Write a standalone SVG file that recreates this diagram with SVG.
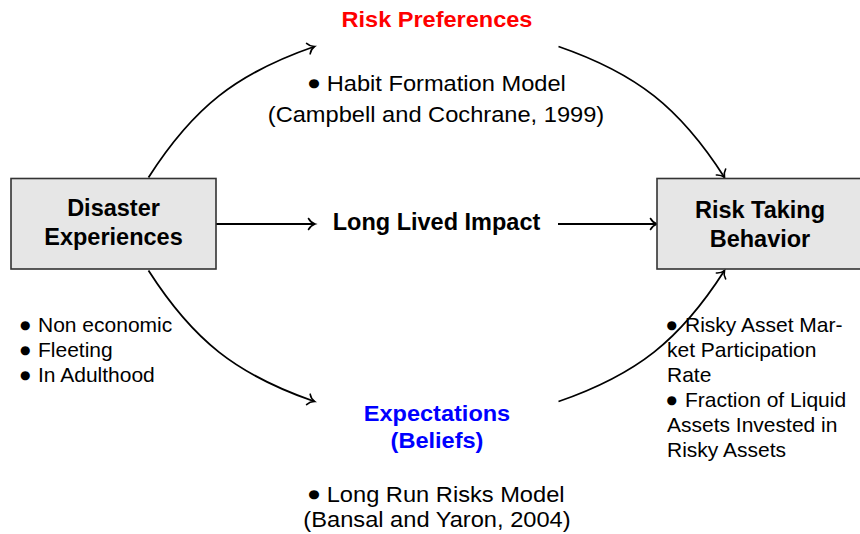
<svg xmlns="http://www.w3.org/2000/svg" width="860" height="534" viewBox="0 0 860 534">
  <style>
    text { font-family: "Liberation Sans", Arial, Helvetica, sans-serif; fill: #000; }
    .box { fill: #e6e6e6; stroke: #333; stroke-width: 1.6; }
    .bold { font-weight: bold; font-size: 23.5px; text-anchor: middle; }
    .head { font-weight: bold; font-size: 22px; text-anchor: middle; }
    .red { fill: #ff0000; }
    .blue { fill: #0000ff; }
    .cite { font-size: 21.5px; text-anchor: middle; }
    .note { font-size: 21.5px; }
    .list { font-size: 21px; }
    .bul { font-family: "DejaVu Sans", sans-serif; font-size: 12px; }
    .edge { fill: none; stroke: #000; stroke-width: 1.8; marker-end: url(#to); }
  </style>
  <defs>
    <marker id="to" markerUnits="userSpaceOnUse" markerWidth="16" markerHeight="16" viewBox="-8 -8 16 16" refX="0" refY="0" orient="auto" overflow="visible">
      <path d="M-6.5,-5.5 C-5,-2.8 -2.5,-0.8 0,0 C-2.5,0.8 -5,2.8 -6.5,5.5" fill="none" stroke="#000" stroke-width="1.6" stroke-linecap="round"/>
    </marker>
  </defs>

  <!-- connectors -->
  <g id="connectors">
    <path class="edge" d="M148.5,177.5 C193.2,107.6 236.4,73.5 314.5,46.5"/>
    <path class="edge" d="M558.5,46.5 C636.6,73.5 679.8,107.6 724.5,177.5"/>
    <path class="edge" d="M148.5,270.5 C193.2,340.4 236.4,374.5 314.5,401.5"/>
    <path class="edge" d="M558.5,401.5 C636.6,374.5 679.8,340.4 724.5,270.5"/>
    <path class="edge" d="M216,224 H315"/>
    <path class="edge" d="M558,224 H657"/>
  </g>

  <!-- source node -->
  <g id="disaster">
    <rect class="box" x="11" y="178.5" width="205" height="90.5"/>
    <text class="bold" x="113.5" y="216">Disaster</text>
    <text class="bold" x="113.5" y="245">Experiences</text>
  </g>

  <!-- outcome node -->
  <g id="behavior">
    <rect class="box" x="657" y="178.5" width="205" height="90.5"/>
    <text class="bold" x="760" y="218">Risk Taking</text>
    <text class="bold" x="760" y="247">Behavior</text>
  </g>

  <!-- upper channel -->
  <g id="preferences">
    <text class="head red" transform="translate(437,27) scale(1.07,1)">Risk Preferences</text>
    <text class="note" transform="translate(326.7,91) scale(1.1,1)"><tspan class="bul" x="-16.8" y="-4.3">●</tspan><tspan x="0" y="0">Habit Formation Model</tspan></text>
    <text class="cite" transform="translate(436,121.5) scale(1.1,1)">(Campbell and Cochrane, 1999)</text>
  </g>

  <!-- middle channel -->
  <g id="impact">
    <text class="bold" x="436.5" y="230">Long Lived Impact</text>
  </g>

  <!-- lower channel -->
  <g id="expectations">
    <text class="head blue" transform="translate(437,421) scale(1.07,1)">Expectations</text>
    <text class="head blue" transform="translate(437,448) scale(1.07,1)">(Beliefs)</text>
    <text class="note" transform="translate(326.7,502) scale(1.1,1)"><tspan class="bul" x="-16.8" y="-4.3">●</tspan><tspan x="0" y="0">Long Run Risks Model</tspan></text>
    <text class="cite" transform="translate(437,527) scale(1.1,1)">(Bansal and Yaron, 2004)</text>
  </g>

  <!-- traits of the experience -->
  <g id="traits">
    <text class="list"><tspan class="bul" x="20" y="329.1">●</tspan><tspan x="38" y="332">Non economic</tspan></text>
    <text class="list"><tspan class="bul" x="20" y="354.1">●</tspan><tspan x="38" y="357">Fleeting</tspan></text>
    <text class="list"><tspan class="bul" x="20" y="379.1">●</tspan><tspan x="38" y="382">In Adulthood</tspan></text>
  </g>

  <!-- measured outcomes -->
  <g id="measures">
    <text class="list"><tspan class="bul" x="666.5" y="329.1">●</tspan><tspan x="685" y="332">Risky Asset Mar-</tspan></text>
    <text class="list" x="667" y="357">ket Participation</text>
    <text class="list" x="667" y="382">Rate</text>
    <text class="list"><tspan class="bul" x="666.5" y="404.1">●</tspan><tspan x="685" y="407">Fraction of Liquid</tspan></text>
    <text class="list" x="667" y="432">Assets Invested in</text>
    <text class="list" x="667" y="457">Risky Assets</text>
  </g>
</svg>
